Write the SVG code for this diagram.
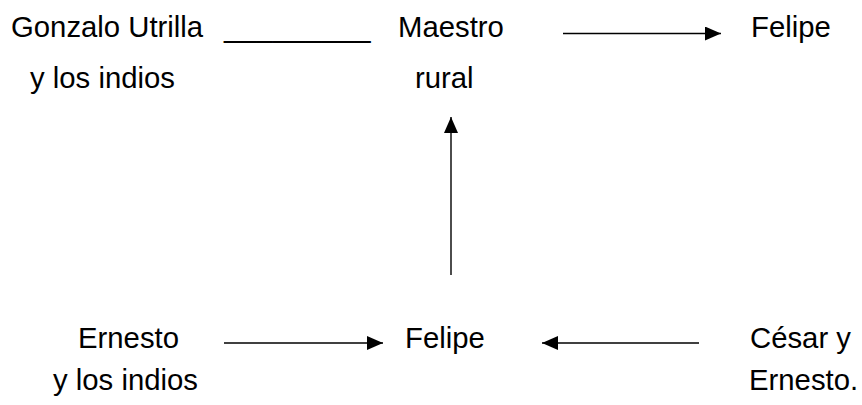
<svg xmlns="http://www.w3.org/2000/svg" width="862" height="405" viewBox="0 0 862 405">
<style>
text{font-family:"Liberation Sans",Arial,sans-serif;font-size:29.3px;fill:#000}
.c line{stroke:#000;stroke-width:1.4}
</style>
<defs>
<marker id="ah" viewBox="0 0 16 14" refX="16" refY="7" markerWidth="16" markerHeight="14" markerUnits="userSpaceOnUse" orient="auto">
<path d="M0,0 L16,7 L0,14 Z" fill="#000"/>
</marker>
</defs>
<rect width="862" height="405" fill="#fff"/>
<g id="gonzalo"><text x="11" y="37">Gonzalo Utrilla</text><text x="30" y="88">y los indios</text></g>
<g id="blank"><text x="224" y="37">_________</text></g>
<g id="maestro"><text x="398" y="37">Maestro</text><text x="415" y="88">rural</text></g>
<g id="felipe-top"><text x="751" y="37">Felipe</text></g>
<g id="ernesto"><text x="78" y="348">Ernesto</text><text x="53" y="390">y los indios</text></g>
<g id="felipe-bottom"><text x="405" y="348">Felipe</text></g>
<g id="cesar"><text x="750" y="348">César y</text><text x="749" y="390">Ernesto.</text></g>
<g class="c" id="connectors">
<line x1="563" y1="33.5" x2="721" y2="33.5" marker-end="url(#ah)"/>
<line x1="451" y1="275" x2="451" y2="117" marker-end="url(#ah)"/>
<line x1="224" y1="343" x2="383" y2="343" marker-end="url(#ah)"/>
<line x1="699" y1="343" x2="542" y2="343" marker-end="url(#ah)"/>
</g>
</svg>
